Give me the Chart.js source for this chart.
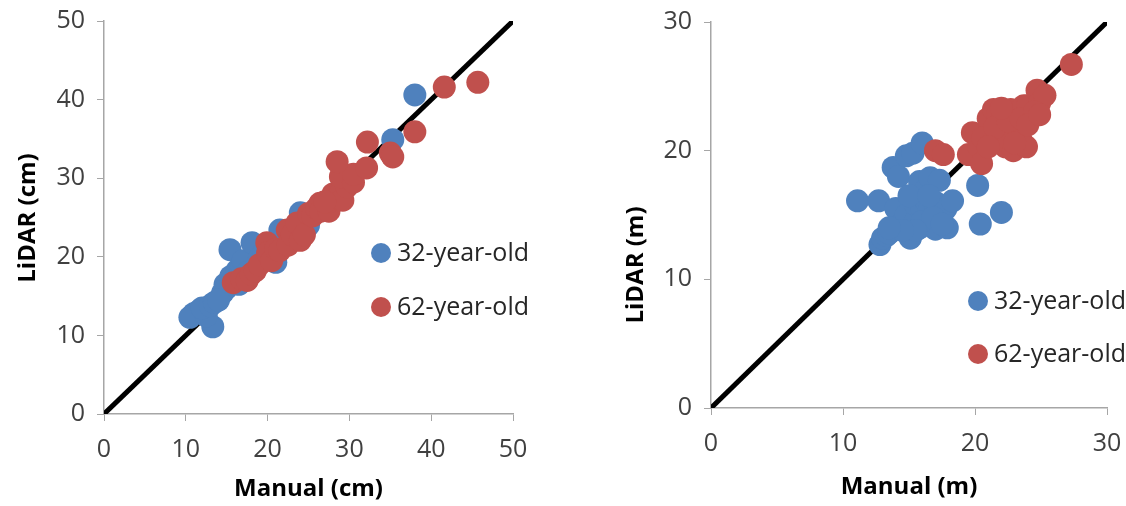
<!DOCTYPE html>
<html>
<head>
<meta charset="utf-8">
<script src="https://cdn.jsdelivr.net/npm/chart.js@4/dist/chart.umd.min.js"></script>
<style>
  body { margin: 0; background: #fff; }
  .box { position: absolute; top: 0; }
</style>
</head>
<body>
<div class="box" style="left:0"><canvas id="dbhChart" width="560" height="506"></canvas></div>
<div class="box" style="left:560px"><canvas id="heightChart" width="566" height="506"></canvas></div>
<script>
// Diameter (cm), manual vs LiDAR
const dbhYoungX = [11.0, 11.7, 10.5, 13.3, 12.5, 12.0, 13.0, 13.5, 14.5, 14.8, 15.0, 15.4, 15.5, 16.3, 16.0, 16.8, 17.0, 17.5, 18.1, 19.0, 19.5, 20.0, 20.5, 21.0, 21.5, 22.0, 22.5, 24.0, 24.0, 25.0, 35.3, 38.0, 14.0, 16.5];
const dbhYoungY = [12.8, 13.2, 12.3, 11.1, 12.5, 13.5, 13.8, 14.2, 15.4, 16.5, 16.0, 20.9, 17.5, 18.3, 17.0, 19.0, 19.5, 18.0, 21.8, 19.8, 20.5, 21.5, 20.5, 19.3, 23.4, 22.5, 23.0, 25.6, 24.8, 24.0, 34.9, 40.6, 14.5, 16.5];
const dbhOldX = [15.8, 16.8, 17.5, 18.0, 18.5, 19.0, 19.9, 20.0, 20.5, 21.0, 21.5, 22.4, 22.5, 23.0, 23.6, 24.0, 24.5, 25.0, 25.5, 26.0, 26.4, 26.5, 27.5, 27.5, 28.0, 28.5, 29.0, 29.2, 29.5, 29.7, 28.9, 30.5, 30.5, 32.1, 28.5, 32.2, 35.0, 35.3, 38.0, 41.6, 45.7, 27.0];
const dbhOldY = [16.7, 17.2, 17.0, 17.8, 18.2, 19.0, 21.8, 20.5, 19.5, 21.0, 20.8, 23.4, 21.5, 22.8, 24.3, 22.1, 22.8, 25.5, 25.2, 26.2, 26.8, 25.8, 25.8, 27.0, 28.0, 27.5, 28.3, 27.2, 29.8, 28.9, 30.2, 29.5, 30.5, 31.3, 32.1, 34.6, 33.2, 32.7, 35.9, 41.6, 42.2, 27.0];

// Height (m), manual vs LiDAR
const htYoungX = [11.1, 12.7, 12.8, 13.0, 13.3, 13.5, 13.8, 14.2, 14.8, 15.3, 16.0, 14.0, 14.3, 14.8, 15.1, 15.5, 15.5, 15.8, 15.8, 16.0, 16.2, 16.3, 16.5, 16.6, 17.0, 17.0, 17.0, 17.3, 17.5, 17.8, 17.9, 18.3, 15.0, 16.0, 16.8, 15.5, 14.5, 13.5, 20.2, 20.4, 22.0, 16.5, 17.5];
const htYoungY = [16.1, 16.1, 12.7, 13.2, 13.4, 13.6, 18.7, 18.0, 19.6, 19.8, 20.6, 15.5, 14.2, 15.0, 13.2, 14.5, 15.8, 17.6, 14.0, 15.5, 16.2, 17.0, 15.3, 17.9, 16.0, 15.8, 13.9, 17.7, 15.0, 15.5, 14.0, 16.1, 16.5, 14.5, 14.8, 13.8, 13.8, 14.0, 17.3, 14.3, 15.2, 16.5, 14.3];
const htOldX = [17.0, 17.6, 19.5, 19.8, 20.3, 20.5, 21.0, 21.3, 21.4, 21.7, 21.8, 22.0, 22.3, 22.5, 22.6, 22.7, 22.8, 22.9, 23.3, 23.5, 23.7, 23.9, 24.0, 24.3, 24.7, 24.9, 25.3, 20.6, 21.5, 22.5, 23.5, 24.5, 22.0, 23.0, 24.0, 27.3, 21.0, 24.9];
const htOldY = [20.0, 19.7, 19.7, 21.4, 20.3, 19.0, 22.5, 21.0, 23.2, 22.8, 22.0, 21.3, 20.3, 21.5, 20.8, 23.2, 22.4, 20.0, 21.0, 20.8, 23.5, 20.3, 23.5, 22.6, 24.7, 23.7, 24.3, 21.0, 21.8, 22.3, 22.5, 23.0, 23.3, 20.6, 22.0, 26.7, 20.3, 22.8];

const seriesNames = ['32-year-old', '62-year-old'];
const seriesColors = ['#4F81BD', '#C0504D'];
const dbhTicks = [0, 10, 20, 30, 40, 50];
const htTicks = [0, 10, 20, 30];

const FONT = '"Open Sans", "DejaVu Sans", sans-serif';

function toPoints(xs, ys) {
    return xs.map((x, i) => ({ x: x, y: ys[i] }));
}

// draws the rotated y title and the Excel-style legend
const extras = {
    id: 'extras',
    afterDraw(chart, args, opts) {
        const ctx = chart.ctx;
        ctx.save();
        ctx.fillStyle = '#000';
        ctx.font = 'bold 24px ' + FONT;
        ctx.textAlign = 'center';
        ctx.textBaseline = 'middle';
        ctx.translate(opts.titleX, opts.titleY);
        ctx.rotate(-Math.PI / 2);
        ctx.fillText(opts.title, 0, 0);
        ctx.restore();

        ctx.save();
        ctx.font = '25px ' + FONT;
        ctx.textBaseline = 'middle';
        seriesNames.forEach((name, i) => {
            const y = opts.legendY[i];
            ctx.fillStyle = seriesColors[i];
            ctx.beginPath();
            ctx.arc(opts.legendX, y, 10, 0, Math.PI * 2);
            ctx.fill();
            ctx.fillStyle = '#262626';
            ctx.fillText(name, opts.legendX + 16, y + 1);
        });
        ctx.restore();
    }
};

function makeChart(id, cfg) {
    const axisColor = '#A6A6A6';
    const tickFont = { family: FONT, size: 25 };
    new Chart(document.getElementById(id), {
        type: 'scatter',
        data: {
            datasets: [
                {
                    label: seriesNames[1],
                    data: toPoints(cfg.oldX, cfg.oldY),
                    backgroundColor: seriesColors[1],
                    borderWidth: 0,
                    pointRadius: 11.5,
                    order: 1
                },
                {
                    label: seriesNames[0],
                    data: toPoints(cfg.youngX, cfg.youngY),
                    backgroundColor: seriesColors[0],
                    borderWidth: 0,
                    pointRadius: 11.5,
                    order: 2
                },
                {
                    label: '1:1',
                    type: 'line',
                    data: toPoints([0, cfg.max], [0, cfg.max]),
                    borderColor: '#000',
                    borderWidth: 5,
                    pointRadius: 0,
                    order: 3
                }
            ]
        },
        options: {
            responsive: false,
            animation: false,
            layout: { padding: cfg.padding },
            plugins: {
                legend: { display: false },
                tooltip: { enabled: false },
                extras: cfg.extras
            },
            scales: {
                x: {
                    type: 'linear',
                    min: 0, max: cfg.max,
                    afterBuildTicks: s => { s.ticks = cfg.ticks.map(v => ({ value: v })); },
                    afterFit: s => { s.height = cfg.xHeight; s.paddingLeft = 0; s.paddingRight = 0; },
                    grid: { drawOnChartArea: false, drawTicks: true, tickLength: 7, color: axisColor },
                    border: { color: axisColor, width: 1.5 },
                    ticks: { font: tickFont, color: '#404040', padding: 14, maxRotation: 0 },
                    title: { display: true, text: cfg.xTitle, color: '#000', font: { family: FONT, size: 24, weight: 'bold' }, padding: { top: 0, bottom: 0 } }
                },
                y: {
                    type: 'linear',
                    min: 0, max: cfg.max,
                    afterBuildTicks: s => { s.ticks = cfg.ticks.map(v => ({ value: v })); },
                    afterFit: s => { s.width = cfg.yWidth; s.paddingTop = 0; s.paddingBottom = 0; },
                    grid: { drawOnChartArea: false, drawTicks: true, tickLength: 7, color: axisColor },
                    border: { color: axisColor, width: 1.5 },
                    ticks: { font: tickFont, color: '#404040', padding: 12 }
                }
            }
        },
        plugins: [extras]
    });
}

makeChart('dbhChart', {
    youngX: dbhYoungX, youngY: dbhYoungY, oldX: dbhOldX, oldY: dbhOldY,
    max: 50, ticks: dbhTicks,
    xTitle: 'Manual (cm)',
    padding: { left: 0, right: 47, top: 21, bottom: 2 },
    yWidth: 104, xHeight: 90,
    extras: { title: 'LiDAR (cm)', titleX: 28, titleY: 218, legendX: 381, legendY: [253, 307] }
});

makeChart('heightChart', {
    youngX: htYoungX, youngY: htYoungY, oldX: htOldX, oldY: htOldY,
    max: 30, ticks: htTicks,
    xTitle: 'Manual (m)',
    padding: { left: 0, right: 19, top: 22, bottom: 4 },
    yWidth: 151, xHeight: 94,
    extras: { title: 'LiDAR (m)', titleX: 76, titleY: 265, legendX: 418, legendY: [301, 354] }
});
</script>
</body>
</html>
